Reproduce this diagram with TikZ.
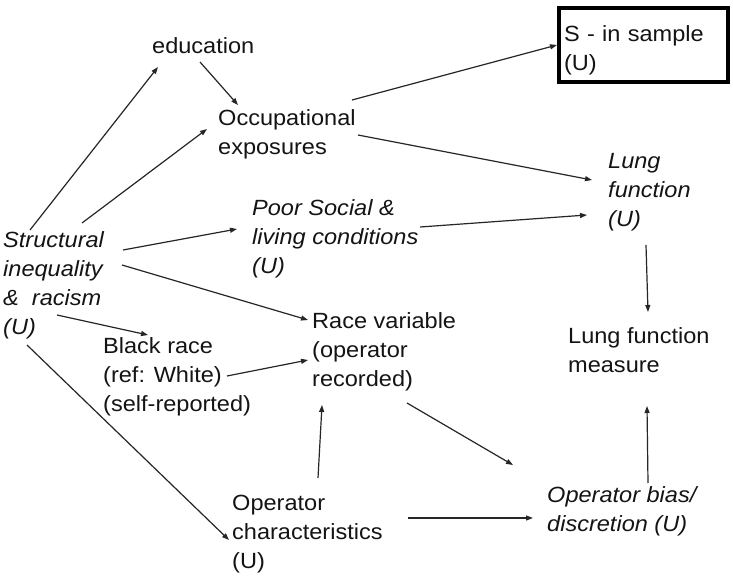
\documentclass[tikz,border=0pt]{standalone}
\usepackage{fontspec}
\setmainfont[FakeStretch=1.07]{Liberation Sans}
\usetikzlibrary{arrows.meta,calc}
\tikzset{
  lbl/.style={anchor=north west, inner sep=0pt, align=left, text=black!92,
    font=\fontsize{22}{29}\selectfont},
  itl/.style={lbl, font=\fontsize{22}{29}\selectfont\itshape},
  arr/.style={draw=black!85, line width=1.2pt, -{Triangle[length=7pt,width=5pt]}},
}
\newcommand{\fs}{\rule{0pt}{16.5pt}}
\begin{document}
\begin{tikzpicture}[x=1pt,y=-1pt]
\useasboundingbox[fill=white] (0,0) rectangle (733,578);
\node[lbl] (edu) at (152,36.5) {\fs education};
\node[lbl] (occ) at (218,108.5) {\fs Occupational\\exposures};
\node[lbl, draw=black, line width=4pt, text width=159pt, inner xsep=5pt,
  inner ysep=0pt, minimum height=74pt, anchor=north west] (samp) at (557,6)
  {\rule{0pt}{27pt}S - in sample\\(U)};
\node[itl] (lungU) at (608,151.5) {\fs Lung\\function\\(U)};
\node[itl] (poor) at (252,198.5) {\fs Poor Social \&\\living conditions\\(U)};
\node[itl] (struc) at (3,230.5) {\fs Structural\\inequality\\\&\ \ racism\\(U)};
\node[lbl] (race) at (312,311.5) {\fs Race variable\\(operator\\recorded)};
\node[lbl] (meas) at (568,326.5) {\fs Lung function\\measure};
\node[lbl] (black) at (103,336.5) {\fs Black race\\(ref: White)\\(self-reported)};
\node[lbl] (opc) at (232,493.5) {\fs Operator\\characteristics\\(U)};
\node[itl] (opb) at (547,485.5) {\fs Operator bias/\\discretion (U)};

\draw[arr] ($(struc.north west)+(27,-0.5)$) -- ($(edu.north west)+(6,30.5)$);
\draw[arr] ($(struc.north west)+(79,-7.5)$) -- ($(occ.north west)+(-11,20.5)$);
\draw[arr] ($(edu.north west)+(48,25.5)$) -- ($(occ.north west)+(20,-3.5)$);
\draw[arr] ($(occ.north west)+(134,-8.5)$) -- (samp.west);
\draw[arr] ($(occ.north west)+(140,26.5)$) -- ($(lungU.north west)+(-16,28.5)$);
\draw[arr] ($(struc.north west)+(120,19.5)$) -- ($(poor.north west)+(-15,30.5)$);
\draw[arr] ($(poor.north west)+(168,28.5)$) -- ($(lungU.north west)+(-21,63.5)$);
\draw[arr] ($(lungU.north west)+(38,93.5)$) -- ($(meas.north west)+(80,-14.5)$);
\draw[arr] ($(struc.north west)+(119,34.5)$) -- ($(race.north west)+(-4,8.5)$);
\draw[arr] ($(struc.north west)+(54,84.5)$) -- ($(black.north west)+(45,-1.5)$);
\draw[arr] ($(black.north west)+(124,39.5)$) -- ($(race.north west)+(-4,48.5)$);
\draw[arr] ($(struc.north west)+(24,114.5)$) -- ($(opc.north west)+(-3,46.5)$);
\draw[arr] ($(opc.north west)+(86,-15.5)$) -- ($(race.north west)+(10,93.5)$);
\draw[arr] ($(race.north west)+(95,91.5)$) -- ($(opb.north west)+(-34,-20.5)$);
\draw[arr] ($(opc.north west)+(176,24.5)$) -- ($(opb.north west)+(-14,32.5)$);
\draw[arr] ($(opb.north west)+(101,-2.5)$) -- ($(meas.north west)+(79,79.5)$);
\end{tikzpicture}
\end{document}
